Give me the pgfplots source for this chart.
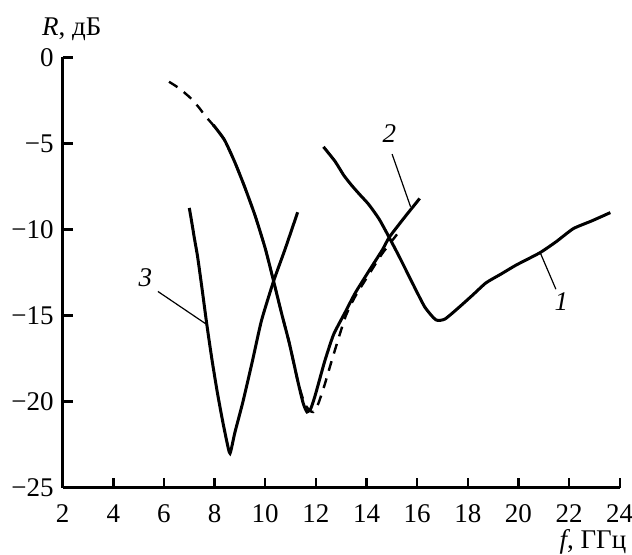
\documentclass[border=0pt]{standalone}
\usepackage{fontspec}
\setmainfont{Liberation Serif}
\usepackage{pgfplots}
\pgfplotsset{compat=1.18}
\begin{document}
\begin{tikzpicture}[font=\fontsize{13.5}{16}\selectfont]
\begin{axis}[
  at={(0,0)}, anchor=south west,
  scale only axis, width=278.5pt, height=215.2pt,
  xmin=2, xmax=24, ymin=-25, ymax=0,
  axis x line=bottom, axis y line=left,
  axis line style={-, line width=1.4pt},
  tick align=inside, major tick length=5pt,
  tick style={line width=1.2pt, black},
  xtick={2,4,...,24}, xticklabels={2,4,6,8,10,12,14,16,18,20,22,24},
  ytick={-25,-20,...,0}, yticklabels={−25,−20,−15,−10,−5,0},
  xticklabel style={yshift=-5pt},
  yticklabel style={xshift=-1pt},
  clip=false,
]
% curve 3
\addplot[black, line width=1.5pt, smooth, tension=0.35] coordinates {
(7.0,-8.75) (7.1,-9.6) (7.2,-10.5) (7.33,-11.6) (7.5,-13.4) (7.7,-15.6)
(7.9,-17.6) (8.1,-19.4) (8.3,-21.0) (8.48,-22.3) (8.61,-23.0)
(8.8,-21.8) (9.12,-20.0) (9.5,-17.6) (9.85,-15.3) (10.33,-13.0) (10.77,-11.2) (11.28,-9.0)
};
% curve 2 dashed
\addplot[black, line width=1.2pt, dash pattern=on 5pt off 4pt, smooth, tension=0.35] coordinates {
(6.2,-1.42) (6.6,-1.8) (7.06,-2.38) (7.4,-2.95) (7.6,-3.35) (7.95,-3.95)
(8.39,-4.8) (8.8,-6.1) (9.18,-7.5) (9.6,-9.2) (10.0,-11.1) (10.33,-13.0)
(10.65,-14.9) (10.95,-16.6) (11.3,-18.9) (11.55,-20.1) (11.75,-20.5) (11.9,-20.6) (12.1,-20.1)
(12.35,-19.0) (12.63,-17.6) (13.16,-15.1) (13.55,-13.9) (14.1,-12.6) (14.62,-11.4) (15.25,-10.2)
};
% curve 2 solid
\addplot[black, line width=1.5pt, smooth, tension=0.35] coordinates {
(7.95,-3.93) (8.39,-4.8) (8.8,-6.1) (9.18,-7.5) (9.6,-9.2) (10.0,-11.1)
(10.33,-13.0) (10.65,-14.9) (10.95,-16.6) (11.3,-18.9) (11.5,-20.1) (11.65,-20.6)
(11.8,-20.4) (11.96,-19.7) (12.15,-18.7) (12.36,-17.6) (12.7,-16.1) (13.16,-14.8)
(13.55,-13.7) (14.1,-12.4) (14.62,-11.2) (14.9,-10.45) (15.5,-9.3) (16.1,-8.2)
};
% curve 1
\addplot[black, line width=1.5pt, smooth, tension=0.35] coordinates {
(12.3,-5.2) (12.76,-6.05) (13.1,-6.85) (13.42,-7.45) (13.75,-8.0) (14.09,-8.55)
(14.5,-9.4) (14.88,-10.42) (15.3,-11.6) (15.81,-13.1) (16.3,-14.5) (16.74,-15.25)
(17.1,-15.2) (17.67,-14.5) (18.2,-13.8) (18.72,-13.1) (19.3,-12.6) (19.92,-12.06)
(20.85,-11.35) (21.5,-10.7) (22.17,-9.95) (22.9,-9.5) (23.63,-9.02)
};
% leaders and labels
\draw[line width=0.6pt] (axis cs:20.87,-11.38) -- (axis cs:21.48,-13.47);
\node[font=\fontsize{13.5}{16}\selectfont\itshape] at (axis cs:21.7,-14.2) {1};
\draw[line width=0.6pt] (axis cs:15.01,-5.62) -- (axis cs:15.74,-8.68);
\node[font=\fontsize{13.5}{16}\selectfont\itshape] at (axis cs:14.9,-4.41) {2};
\draw[line width=0.6pt] (axis cs:5.76,-13.6) -- (axis cs:7.66,-15.49);
\node[font=\fontsize{13.5}{16}\selectfont\itshape] at (axis cs:5.27,-12.83) {3};
\end{axis}
\node[anchor=base west, inner sep=0pt] at (-10.5pt,226.35pt) {\textit{R}, дБ};
\node[anchor=base east, inner sep=0pt] at (282pt,-30.15pt) {\textit{f}, ГГц};
\pgfresetboundingbox
\path (-31.35pt,-33.15pt) rectangle (284.65pt,243.85pt);
\end{tikzpicture}
\end{document}
